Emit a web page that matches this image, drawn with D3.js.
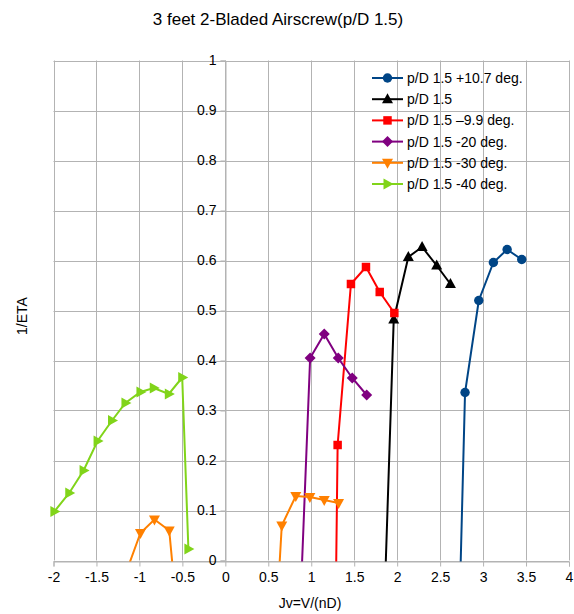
<!DOCTYPE html>
<html>
<head>
<meta charset="utf-8">
<script src="https://cdn.jsdelivr.net/npm/d3@7"></script>
<style>
  body { margin: 0; background: #fff; }
  text { font-family: "Liberation Sans", Arial, sans-serif; fill: #000; }
</style>
</head>
<body>
<div id="chart"></div>
<script>
// advance ratio Jv and 1/ETA for each blade angle; points below 0 are clipped
var jvPlus107 = [2.71, 2.79, 2.95, 3.12, 3.28, 3.45];
var etaPlus107 = [-0.2, 0.336, 0.52, 0.596, 0.622, 0.602];

var jvBase = [1.83, 1.96, 2.13, 2.29, 2.46, 2.62];
var etaBase = [-0.2, 0.482, 0.607, 0.627, 0.59, 0.553];

var jvMinus99 = [1.277, 1.307, 1.462, 1.637, 1.797, 1.967];
var etaMinus99 = [-0.2, 0.231, 0.553, 0.587, 0.537, 0.495];

var jvMinus20 = [0.848, 0.987, 1.151, 1.314, 1.477, 1.645];
var etaMinus20 = [-0.2, 0.405, 0.453, 0.405, 0.365, 0.331];

var jvMinus30 = [-1.21, -0.988, -0.825, -0.653, -0.565, 0.6, 0.657, 0.82, 0.984, 1.151, 1.318];
var etaMinus30 = [-0.05, 0.055, 0.082, 0.06, -0.1, -0.1, 0.07, 0.129, 0.127, 0.121, 0.115];

var jvMinus40 = [-1.99, -1.817, -1.65, -1.487, -1.319, -1.163, -0.988, -0.833, -0.658, -0.502, -0.43];
var etaMinus40 = [0.098, 0.135, 0.18, 0.239, 0.28, 0.315, 0.337, 0.345, 0.333, 0.366, 0.023];

var seriesNames = ['p/D 1.5 +10.7 deg.', 'p/D 1.5', 'p/D 1.5 \u20139.9 deg.',
  'p/D 1.5 -20 deg.', 'p/D 1.5 -30 deg.', 'p/D 1.5 -40 deg.'];
var xTicks = [-2, -1.5, -1, -0.5, 0, 0.5, 1, 1.5, 2, 2.5, 3, 3.5, 4];
var yTicks = [0, 0.1, 0.2, 0.3, 0.4, 0.5, 0.6, 0.7, 0.8, 0.9, 1];

var series = [
  { name: seriesNames[0], jv: jvPlus107, eta: etaPlus107, color: '#004586', shape: 'circle' },
  { name: seriesNames[1], jv: jvBase, eta: etaBase, color: '#000000', shape: 'up' },
  { name: seriesNames[2], jv: jvMinus99, eta: etaMinus99, color: '#ff0000', shape: 'square' },
  { name: seriesNames[3], jv: jvMinus20, eta: etaMinus20, color: '#800080', shape: 'diamond' },
  { name: seriesNames[4], jv: jvMinus30, eta: etaMinus30, color: '#ff8000', shape: 'down' },
  { name: seriesNames[5], jv: jvMinus40, eta: etaMinus40, color: '#81d41a', shape: 'right' }
];

var width = 574;
var height = 614;
var margin = { top: 60.5, right: 5, bottom: 53.5, left: 53.5 };
var fontSize = 14;

var svg = d3.select('#chart')
  .append('svg')
  .attr('width', width)
  .attr('height', height);

var x = d3.scaleLinear().domain([-2, 4]).range([margin.left, width - margin.right]);
var y = d3.scaleLinear().domain([0, 1]).range([height - margin.bottom, margin.top]);

// grid
var grid = svg.append('g').attr('stroke', '#b3b3b3').attr('stroke-width', 1);
grid.selectAll('.vg').data(xTicks).enter().append('line')
  .attr('x1', function(d) { return Math.round(x(d)) + 0.5; })
  .attr('x2', function(d) { return Math.round(x(d)) + 0.5; })
  .attr('y1', y(1)).attr('y2', y(0));
grid.selectAll('.hg').data(yTicks).enter().append('line')
  .attr('y1', function(d) { return Math.round(y(d)) + 0.5; })
  .attr('y2', function(d) { return Math.round(y(d)) + 0.5; })
  .attr('x1', x(-2)).attr('x2', x(4));

// x axis along eta = 0
var xAxis = svg.append('g')
  .attr('transform', 'translate(0,' + (Math.round(y(0)) + 0.5) + ')')
  .call(d3.axisBottom(x).tickValues(xTicks).tickSize(5).tickPadding(6)
    .tickFormat(function(d) { return String(d); }));
xAxis.select('.domain').attr('stroke', '#b3b3b3');
xAxis.selectAll('.tick line').attr('stroke', '#b3b3b3');
xAxis.selectAll('text').attr('font-size', fontSize).attr('font-family', '"Liberation Sans", Arial, sans-serif');

// y axis crosses at Jv = 0
var yAxis = svg.append('g')
  .attr('transform', 'translate(' + (Math.round(x(0)) + 0.5) + ',0)')
  .call(d3.axisLeft(y).tickValues(yTicks).tickSize(5).tickPadding(4)
    .tickFormat(function(d) { return String(+d.toFixed(1)); }));
yAxis.select('.domain').attr('stroke', '#b3b3b3');
yAxis.selectAll('.tick line').attr('stroke', '#b3b3b3');
yAxis.selectAll('text').attr('font-size', fontSize).attr('font-family', '"Liberation Sans", Arial, sans-serif');

svg.append('clipPath').attr('id', 'plot-clip')
  .append('rect')
  .attr('x', x(-2)).attr('y', y(1))
  .attr('width', x(4) - x(-2)).attr('height', y(0) - y(1) + 1);

function symbolPath(shape) {
  if (shape === 'circle') return d3.symbol(d3.symbolCircle, 70)();
  if (shape === 'square') return d3.symbol(d3.symbolSquare, 72)();
  if (shape === 'diamond') return 'M0,-5.5L5.5,0L0,5.5L-5.5,0Z';
  if (shape === 'up') return 'M0,-6L5.5,4L-5.5,4Z';
  if (shape === 'down') return 'M0,6L5.5,-4L-5.5,-4Z';
  return 'M6,0L-4,5.5L-4,-5.5Z';
}

var line = d3.line()
  .x(function(d) { return x(d[0]); })
  .y(function(d) { return y(d[1]); });

series.forEach(function(s) {
  var pts = s.jv.map(function(v, i) { return [v, s.eta[i]]; });
  svg.append('path')
    .datum(pts)
    .attr('clip-path', 'url(#plot-clip)')
    .attr('fill', 'none')
    .attr('stroke', s.color)
    .attr('stroke-width', 2)
    .attr('d', line);
  svg.selectAll(null)
    .data(pts.filter(function(d) { return d[1] >= 0; }))
    .enter().append('path')
    .attr('transform', function(d) { return 'translate(' + x(d[0]) + ',' + y(d[1]) + ')'; })
    .attr('d', symbolPath(s.shape))
    .attr('fill', s.color);
});

// legend
var legend = svg.append('g').attr('transform', 'translate(372,78)');
var item = legend.selectAll('g').data(series).enter().append('g')
  .attr('transform', function(d, i) { return 'translate(0,' + (i * 21.2) + ')'; });
item.append('line')
  .attr('x1', 0).attr('x2', 31).attr('y1', 0).attr('y2', 0)
  .attr('stroke', function(d) { return d.color; })
  .attr('stroke-width', 2);
item.append('path')
  .attr('transform', 'translate(15.5,0)')
  .attr('d', function(d) { return symbolPath(d.shape); })
  .attr('fill', function(d) { return d.color; });
item.append('text')
  .attr('x', 35).attr('y', 5)
  .attr('font-size', fontSize)
  .text(function(d) { return d.name; });

// titles
svg.append('text')
  .attr('x', 278).attr('y', 25)
  .attr('text-anchor', 'middle')
  .attr('font-size', 17)
  .text('3 feet 2-Bladed Airscrew(p/D 1.5)');

svg.append('text')
  .attr('x', 310).attr('y', 608)
  .attr('text-anchor', 'middle')
  .attr('font-size', fontSize)
  .text('Jv=V/(nD)');

svg.append('text')
  .attr('transform', 'translate(27,316) rotate(-90)')
  .attr('text-anchor', 'middle')
  .attr('font-size', fontSize)
  .text('1/ETA');
</script>
</body>
</html>
